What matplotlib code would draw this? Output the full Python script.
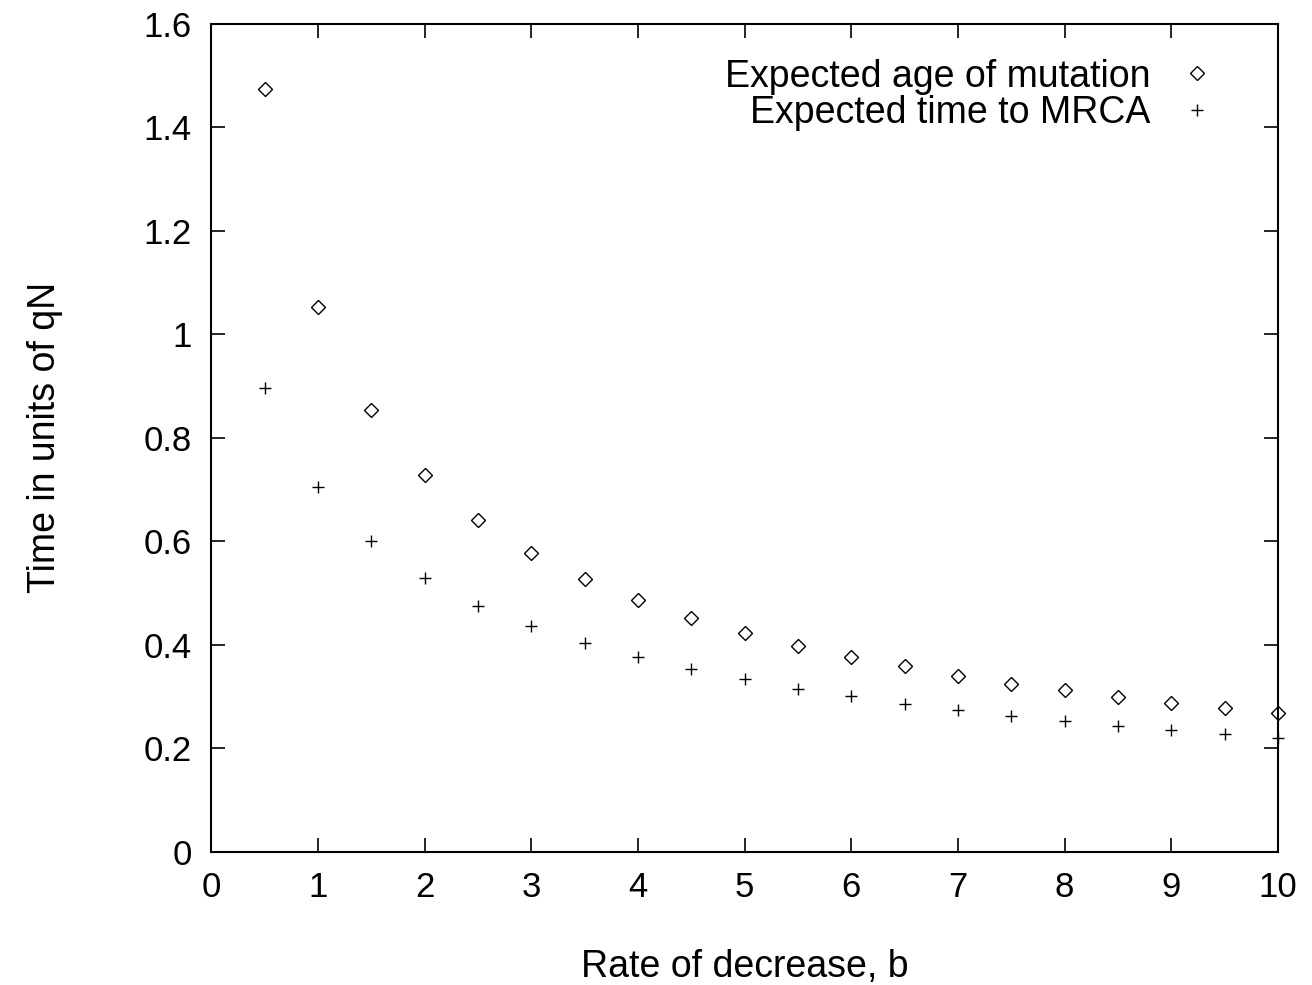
import matplotlib
matplotlib.use('Agg')
import matplotlib.pyplot as plt

###Data
b = [0.5, 1, 1.5, 2, 2.5, 3, 3.5, 4, 4.5, 5, 5.5, 6, 6.5, 7, 7.5, 8, 8.5, 9, 9.5, 10]
# Expected age of mutation (diamonds)
age = [1.474, 1.053, 0.854, 0.728, 0.642, 0.578, 0.528, 0.487, 0.452, 0.423,
       0.398, 0.377, 0.359, 0.340, 0.325, 0.313, 0.300, 0.288, 0.278, 0.269]
# Expected time to MRCA (plus signs)
mrca = [0.897, 0.705, 0.601, 0.529, 0.475, 0.437, 0.404, 0.377, 0.354, 0.334,
        0.315, 0.301, 0.286, 0.274, 0.263, 0.253, 0.243, 0.236, 0.228, 0.220]

xticks = list(range(0, 11))
yticks = [0, 0.2, 0.4, 0.6, 0.8, 1.0, 1.2, 1.4, 1.6]
ytick_labels = ['0', '0.2', '0.4', '0.6', '0.8', '1', '1.2', '1.4', '1.6']

plt.rcParams['font.family'] = ['Liberation Sans', 'DejaVu Sans']

fig = plt.figure(figsize=(13.12, 9.85), dpi=100)
ax = fig.add_axes([0.161, 0.135, 0.813, 0.841])

ax.plot(b, age, linestyle='none', marker='D', markersize=7.5,
        markerfacecolor='none', markeredgecolor='black', markeredgewidth=1.0,
        label='Expected age of mutation', clip_on=False)
ax.plot(b, mrca, linestyle='none', marker='+', markersize=9,
        color='black', markeredgewidth=1.0,
        label='Expected time to MRCA', clip_on=False)

ax.set_xlim(0, 10)
ax.set_ylim(0, 1.6)
ax.set_xticks(xticks)
ax.set_yticks(yticks)
ax.set_yticklabels(ytick_labels)
ax.tick_params(direction='in', top=True, right=True, length=10, width=1.2,
               labelsize=25, pad=14)
for s in ax.spines.values():
    s.set_linewidth(1.5)

ax.set_xlabel('Rate of decrease, b', fontsize=27, labelpad=32)
ax.set_ylabel('Time in units of qN', fontsize=27, labelpad=58)

ax.legend(loc='upper right', frameon=False, markerfirst=False, fontsize=27,
          handlelength=1.5, handletextpad=0.5, labelspacing=0.02,
          borderaxespad=0.4, bbox_to_anchor=(0.979, 0.994))

fig.savefig('out.png', dpi=100)
